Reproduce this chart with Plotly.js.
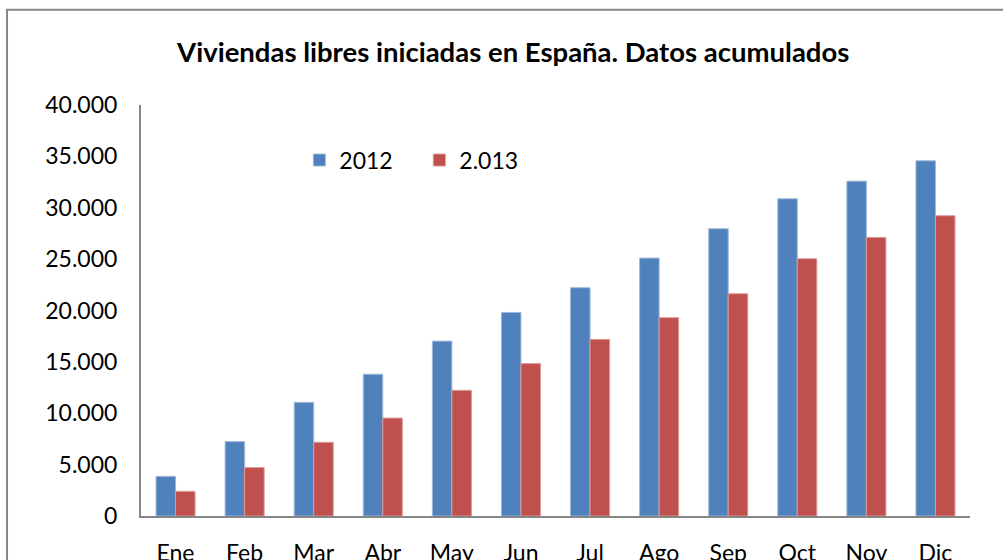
<!DOCTYPE html>
<html>
<head>
<meta charset="utf-8">
<script src="https://cdn.plot.ly/plotly-3.0.1.min.js"></script>
<style>
  html, body { margin: 0; padding: 0; background: #fff; }
  #chart { width: 1003px; height: 560px; }
</style>
</head>
<body>
<div id="chart"></div>
<script>
const categories = ['Ene', 'Feb', 'Mar', 'Abr', 'May', 'Jun', 'Jul', 'Ago', 'Sep', 'Oct', 'Nov', 'Dic'];
const values2012 = [3860, 7240, 11060, 13800, 17020, 19810, 22220, 25100, 27960, 30870, 32590, 34570];
const values2013 = [2400, 4710, 7170, 9530, 12230, 14830, 17190, 19300, 21630, 25040, 27110, 29220];
const seriesNames = ['2012', '2.013'];
const yTicks = [0, 5000, 10000, 15000, 20000, 25000, 30000, 35000, 40000];

const FONT = 'Lato, Carlito, Calibri, "Open Sans", sans-serif';

const traces = [
  {
    type: 'bar', name: seriesNames[0], x: categories, y: values2012,
    marker: { color: '#4F81BD', line: { color: '#9FB8DA', width: 1 } },
    hoverinfo: 'x+y'
  },
  {
    type: 'bar', name: seriesNames[1], x: categories, y: values2013,
    marker: { color: '#C0504D', line: { color: '#DB9A98', width: 1 } },
    hoverinfo: 'x+y'
  }
];

const layout = {
  width: 1003, height: 560,
  margin: { l: 141, r: 33, t: 105, b: 44 },
  paper_bgcolor: '#ffffff', plot_bgcolor: '#ffffff',
  separators: ',.',
  font: { family: FONT, size: 23, color: '#000000' },
  title: {
    text: '<b>Viviendas libres iniciadas en España. Datos acumulados</b>',
    font: { family: FONT, size: 27.5, color: '#000000' },
    x: 0.449, xref: 'paper', xanchor: 'center',
    y: 50, yref: 'container', yanchor: 'middle'
  },
  barmode: 'group', bargap: 0.435, bargroupgap: 0,
  xaxis: {
    type: 'category', showgrid: false, zeroline: false,
    showline: true, linecolor: '#868686', linewidth: 2,
    ticks: '', ticklabelstandoff: 15,
    tickfont: { family: FONT, size: 23, color: '#000' },
    fixedrange: true
  },
  yaxis: {
    range: [0, 40000], tickvals: yTicks, tickformat: ',d',
    showgrid: false, zeroline: false,
    showline: true, linecolor: '#868686', linewidth: 2,
    ticks: '', ticklabelstandoff: 17,
    tickfont: { family: FONT, size: 23, color: '#000' },
    fixedrange: true
  },
  showlegend: true,
  legend: {
    orientation: 'h', x: 0.191, xanchor: 'left', y: 0.866, yanchor: 'middle',
    font: { family: FONT, size: 23, color: '#000' },
    bgcolor: 'rgba(0,0,0,0)', traceorder: 'normal',
    entrywidth: 75, itemwidth: 30
  },
  shapes: [
    {
      type: 'rect', xref: 'paper', yref: 'paper',
      x0: -0.1616, x1: 1.2, y0: -0.3, y1: 1.2315,
      line: { color: '#868686', width: 2 }, fillcolor: 'rgba(0,0,0,0)', layer: 'below'
    }
  ]
};

Plotly.newPlot('chart', traces, layout, { displayModeBar: false, staticPlot: true });
</script>
</body>
</html>
